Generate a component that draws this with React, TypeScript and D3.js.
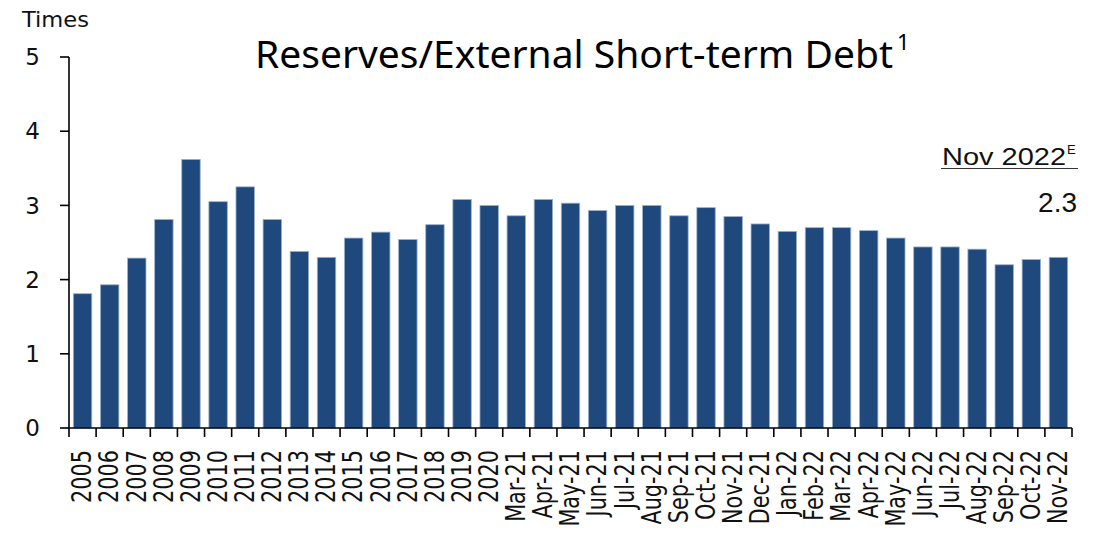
import * as d3 from "d3";

const W = 1094;
const H = 533;
const MARGIN = { top: 57, right: 22, bottom: 105, left: 69 };

const periods = [
  "2005", "2006", "2007", "2008", "2009", "2010", "2011", "2012", "2013", "2014",
  "2015", "2016", "2017", "2018", "2019", "2020",
  "Mar-21", "Apr-21", "May-21", "Jun-21", "Jul-21", "Aug-21", "Sep-21", "Oct-21",
  "Nov-21", "Dec-21", "Jan-22", "Feb-22", "Mar-22", "Apr-22", "May-22", "Jun-22",
  "Jul-22", "Aug-22", "Sep-22", "Oct-22", "Nov-22",
];
const ratios = [
  1.81, 1.93, 2.29, 2.81, 3.62, 3.05, 3.25, 2.81, 2.38, 2.3,
  2.56, 2.64, 2.54, 2.74, 3.08, 3.0,
  2.86, 3.08, 3.03, 2.93, 3.0, 3.0, 2.86, 2.97,
  2.85, 2.75, 2.65, 2.7, 2.7, 2.66, 2.56, 2.44,
  2.44, 2.41, 2.2, 2.27, 2.3,
];
const yTicks = [0, 1, 2, 3, 4, 5];

export default function App() {
  const innerW = W - MARGIN.left - MARGIN.right;
  const innerH = 428 - MARGIN.top;

  const x = d3.scaleBand().domain(periods).range([0, innerW]).paddingInner(0.32).paddingOuter(0.16);
  const y = d3.scaleLinear().domain([0, 5]).range([innerH, 0]);
  const edges = d3.range(periods.length + 1).map((i) => i * (innerW / periods.length));

  return (
    <svg width={W} height={H} style={{ position: "absolute", left: 0, top: 0, background: "#fff" }}>
      <text x={22} y={27} fontFamily="DejaVu Sans, sans-serif" fontSize={21} fill="#111"
        textLength={67} lengthAdjust="spacingAndGlyphs">Times</text>

      {/* title */}
      <text x={255} y={68} fontFamily="Noto Sans, sans-serif" fontSize={39} fill="#000"
        textLength={638} lengthAdjust="spacingAndGlyphs">
        Reserves/External Short-term Debt
      </text>
      <text x={897} y={50} fontFamily="Noto Sans, sans-serif" fontSize={22} fill="#000">1</text>

      {/* annotation */}
      <text x={942} y={165} fontFamily="Liberation Sans, Arial" fontSize={24} fill="#111"
        textLength={124} lengthAdjust="spacingAndGlyphs">Nov 2022</text>
      <text x={1067} y={154} fontFamily="Liberation Sans, Arial" fontSize={13} fill="#111">E</text>
      <line x1={941} x2={1078} y1={168.5} y2={168.5} stroke="#333" strokeWidth={1.2} />
      <text x={1077} y={212} textAnchor="end" fontFamily="Liberation Sans, Arial" fontSize={28} fill="#111">2.3</text>

      <g transform={`translate(${MARGIN.left},${MARGIN.top})`}>
        {periods.map((p, i) => (
          <rect key={p} x={x(p)} y={y(ratios[i])} width={x.bandwidth()} height={innerH - y(ratios[i])}
            fill="#1f497d" stroke="#9db1cb" strokeWidth={0.8} />
        ))}

        {/* y axis */}
        <line x1={0} x2={0} y1={0} y2={innerH} stroke="#000" strokeWidth={1.6} />
        {yTicks.map((t) => (
          <g key={t} transform={`translate(0,${y(t)})`}>
            <line x1={-9} x2={0} stroke="#000" strokeWidth={1.6} />
            <text x={-29} dy="0.36em" textAnchor="end" fontFamily="DejaVu Sans, sans-serif" fontSize={23} fill="#111"
              transform="scale(1,1)">{t}</text>
          </g>
        ))}

        {/* x axis */}
        <line x1={0} x2={innerW} y1={innerH} y2={innerH} stroke="#000" strokeWidth={1.6} />
        {edges.map((e, i) => (
          <line key={i} x1={e} x2={e} y1={innerH} y2={innerH + 9} stroke="#000" strokeWidth={1.6} />
        ))}
        {periods.map((p) => (
          <text key={p}
            transform={`translate(${x(p)! + x.bandwidth() / 2},${innerH + 22}) rotate(-90) scale(0.8,1)`}
            textAnchor="end" dominantBaseline="central"
            fontFamily="DejaVu Sans, sans-serif" fontSize={26} fill="#111">
            {p}
          </text>
        ))}
      </g>
    </svg>
  );
}
